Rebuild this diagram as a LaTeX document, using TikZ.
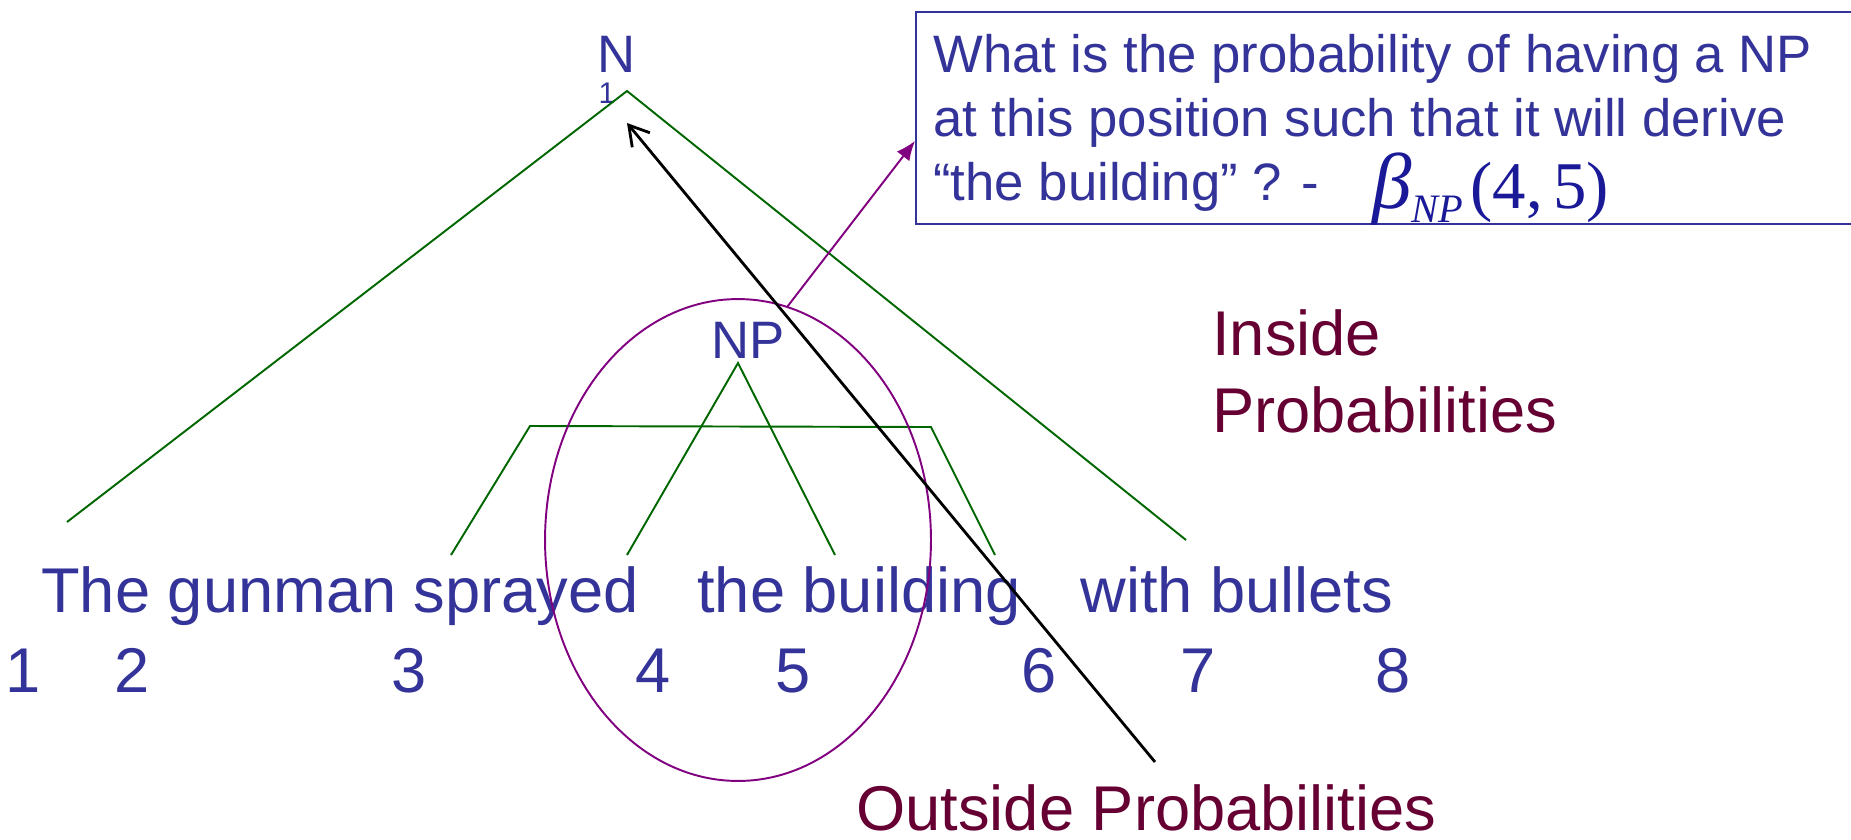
\documentclass[tikz,border=0pt]{standalone}
\usepackage{fontspec}
\setmainfont{Liberation Sans}
\newfontfamily\timesfont{Liberation Serif}
\usepackage{xcolor}
\usetikzlibrary{shapes.geometric}
\usetikzlibrary{arrows.meta}
\definecolor{wordblue}{HTML}{333399}
\definecolor{betablue}{HTML}{1A1A99}
\definecolor{treegreen}{HTML}{006600}
\definecolor{ovalpurple}{HTML}{800080}
\definecolor{probred}{HTML}{660033}
\tikzset{>=latex}
\tikzset{
  word/.style={text=wordblue, inner sep=0pt, anchor=base west, font=\fontsize{36}{36}\selectfont},
  num/.style={text=wordblue, inner sep=0pt, anchor=base, font=\fontsize{36}{36}\selectfont},
  cat/.style={text=wordblue, inner sep=0pt, anchor=base, font=\fontsize{30}{30}\selectfont},
  quest/.style={text=wordblue, inner sep=0pt, anchor=base west, font=\fontsize{30}{30}\selectfont},
  probtxt/.style={text=probred, inner sep=0pt, anchor=base west, font=\fontsize{36}{36}\selectfont},
  branch/.style={treegreen, line width=1.1pt},
}

\begin{document}
\begin{tikzpicture}[x=0.02cm, y=-0.02cm]
    \useasboundingbox (0,0) rectangle (1851,839);
    % tree
    \node[cat] (N) at (617,72) {N};
    \node[cat, font=\fontsize{17}{17}\selectfont] (Nsub) at (607,103) {1};
    \coordinate (top) at (627,91);
    \coordinate (lend) at (67,522);
    \coordinate (rend) at (1186,540);
    \draw[branch] (lend) -- (top) -- (rend);
    \node[cat] (NP) at (748,358) {NP};
    \coordinate (nptop) at (738,363);
    \coordinate (npl) at (627,555);
    \coordinate (npr) at (835,555);
    \draw[branch] (npl) -- (nptop) -- (npr);
    \coordinate (bl) at (451,555);
    \coordinate (bla) at (530,426);
    \coordinate (bra) at (931,427);
    \coordinate (br) at (995,555);
    \draw[branch] (bl) -- (bla) -- (bra) -- (br);
    % sentence
    \node[word] (w1) at (41,612) {The gunman sprayed};
    \node[word] (w2) at (697,612) {the building};
    \node[word] (w3) at (1080,612) {with bullets};
    \foreach \i/\x in {1/23, 2/132, 3/409, 4/653, 5/793, 6/1039, 7/1198, 8/1393}
      \node[num] (n\i) at (\x,692) {\i};
    \node[draw=ovalpurple, line width=1.1pt, ellipse, inner sep=0pt,
          minimum width=7.72cm, minimum height=9.64cm] (ell) at (738,540) {};
    % question
    \node[draw=wordblue, line width=1.1pt, anchor=north west, inner sep=0pt,
          minimum width=19.5cm, minimum height=4.24cm] (qbox) at (915,11) {};
    \node[quest] (q1) at (933,72) {What is the probability of having a NP};
    \node[quest] (q2) at (933,136) {at this position such that it will derive};
    \node[quest] (q3) at (933,200) {“the building” ? -};
    \node[text=betablue, inner sep=0pt, anchor=base west, font=\timesfont\fontsize{38}{38}\selectfont]
      (beta) at (1372,208) {{\fontsize{45}{45}\selectfont\itshape β}\raisebox{-8pt}{\fontsize{23}{23}\selectfont\itshape NP}\hspace{4pt}(4,\hspace{6pt}5)};
    \draw[-{Latex[length=11pt,width=9pt]}, ovalpurple, line width=1.1pt] (ell.78) -- ([yshift=-0.46cm]qbox.west);
    % outside arrow
    \coordinate (otail) at (1155,762);
    \coordinate (otip) at (627,123);
    \draw[-{Straight Barb[length=11pt,width=13pt]}, line width=1.6pt] (otail) -- (otip);
    \node[probtxt] (ins1) at (1212,355) {Inside};
    \node[probtxt] (ins2) at (1212,432) {Probabilities};
    \node[probtxt] (outs) at (856,830) {Outside Probabilities};
  \end{tikzpicture}
\end{document}
